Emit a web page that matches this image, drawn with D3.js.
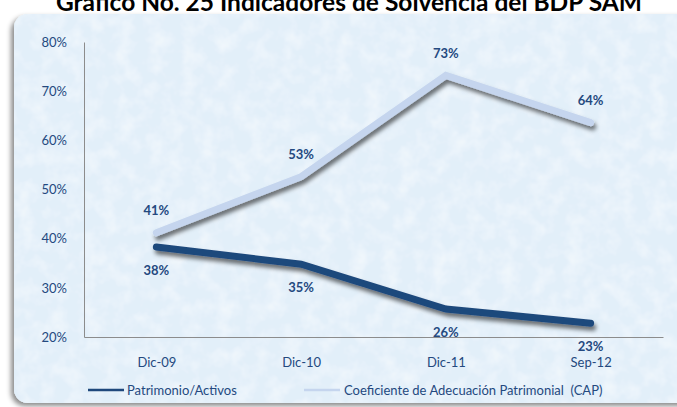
<!DOCTYPE html>
<html>
<head>
<meta charset="utf-8">
<script src="https://cdn.jsdelivr.net/npm/d3@7"></script>
<style>
  html, body { margin: 0; padding: 0; background: #fff; }
  svg { display: block; }
</style>
</head>
<body>
<svg id="chart" width="677" height="407"></svg>
<script>
// ---------- data ----------
const categories = ["Dic-09", "Dic-10", "Dic-11", "Sep-12"];
const patrimonio = [0.383, 0.348, 0.257, 0.228];
const cap = [0.412, 0.526, 0.732, 0.636];
const yTicks = [0.2, 0.3, 0.4, 0.5, 0.6, 0.7, 0.8];
const seriesNames = ["Patrimonio/Activos", "Coeficiente de Adecuación Patrimonial  (CAP)"];
const title = "Grafico No. 25 Indicadores de Solvencia del BDP SAM";

const W = 677, H = 407;
const margin = { left: 84, right: 14, top: 42, bottom: 70 };
const FONT = "Lato, 'Open Sans', sans-serif";
const TEXT = "#24497f";
const DARK = "#1f487c", LIGHT = "#c5d5ee";

const svg = d3.select("#chart");
const defs = svg.append("defs");

// paper-ish texture for the panel
const tex = defs.append("filter").attr("id", "tex").attr("x", 0).attr("y", 0).attr("width", 1).attr("height", 1);
tex.append("feTurbulence").attr("type", "fractalNoise").attr("baseFrequency", 0.06).attr("numOctaves", 3).attr("seed", 4).attr("result", "n");
tex.append("feColorMatrix").attr("in", "n").attr("type", "matrix")
  .attr("values", "0 0 0 0 1  0 0 0 0 1  0 0 0 0 1  0 0 0 0.9 -0.35").attr("result", "w");
tex.append("feComposite").attr("in", "w").attr("in2", "SourceGraphic").attr("operator", "in").attr("result", "wc");
tex.append("feMerge").call((m) => { m.append("feMergeNode").attr("in", "SourceGraphic"); m.append("feMergeNode").attr("in", "wc"); });

const panelShadow = defs.append("filter").attr("id", "pshadow").attr("x", "-5%").attr("y", "-5%").attr("width", "110%").attr("height", "110%");
panelShadow.append("feDropShadow").attr("dx", -3).attr("dy", 3).attr("stdDeviation", 2.5)
  .attr("flood-color", "#000").attr("flood-opacity", 0.45);

const lineShadow = defs.append("filter").attr("id", "lshadow").attr("x", "-10%").attr("y", "-20%").attr("width", "120%").attr("height", "140%");
lineShadow.append("feDropShadow").attr("dx", 2).attr("dy", 4).attr("stdDeviation", 2.2)
  .attr("flood-color", "#000").attr("flood-opacity", 0.55);

// panel
svg.append("rect")
  .attr("x", 14).attr("y", 14).attr("width", 700).attr("height", 389).attr("rx", 14)
  .attr("fill", "#e2eff9")
  .attr("filter", "url(#pshadow)");
svg.append("rect")
  .attr("x", 14).attr("y", 14).attr("width", 700).attr("height", 389).attr("rx", 14)
  .attr("fill", "#e2eff9")
  .attr("filter", "url(#tex)");

// title, its top runs off the page like in the original
svg.append("text")
  .attr("x", 349).attr("y", 11)
  .attr("text-anchor", "middle")
  .attr("font-family", "Lato, sans-serif")
  .attr("font-weight", 700)
  .attr("font-size", 24)
  .attr("textLength", 586)
  .attr("lengthAdjust", "spacingAndGlyphs")
  .attr("fill", "#000")
  .text(title);

// ---------- scales ----------
const x = d3.scalePoint().domain(categories).range([margin.left, W - margin.right]).padding(0.5);
const y = d3.scaleLinear().domain([0.2, 0.8]).range([H - margin.bottom, margin.top]);

// axes
const yAxis = svg.append("g")
  .attr("transform", `translate(${margin.left},0)`)
  .call(d3.axisLeft(y).tickValues(yTicks).tickFormat(d3.format(".0%")).tickSize(0).tickSizeOuter(0).tickPadding(17));
yAxis.select(".domain").attr("stroke", "#8c8c8c");
yAxis.selectAll("text").attr("font-family", FONT).attr("font-size", 13).attr("fill", TEXT);

const xAxis = svg.append("g")
  .attr("transform", `translate(0,${y(0.2)})`)
  .call(d3.axisBottom(x).tickSize(0).tickSizeOuter(0).tickPadding(21));
xAxis.select(".domain").attr("stroke", "#8c8c8c");
xAxis.selectAll("text").attr("font-family", FONT).attr("font-size", 13).attr("fill", TEXT);

// ---------- lines ----------
const line = d3.line().x((d, i) => x(categories[i])).y((d) => y(d));
const series = [
  { name: seriesNames[0], values: patrimonio, color: DARK, dy: 23 },
  { name: seriesNames[1], values: cap, color: LIGHT, dy: -22 },
];

series.slice().reverse().forEach((s) => {
  svg.append("path")
    .datum(s.values)
    .attr("d", line)
    .attr("fill", "none")
    .attr("stroke", s.color)
    .attr("stroke-width", 7)
    .attr("stroke-linecap", "round")
    .attr("stroke-linejoin", "miter")
    .attr("filter", "url(#lshadow)");
});

// data labels
series.forEach((s) => {
  svg.append("g").selectAll("text")
    .data(s.values)
    .join("text")
    .attr("x", (d, i) => x(categories[i]))
    .attr("y", (d) => y(d) + s.dy)
    .attr("dy", "0.35em")
    .attr("text-anchor", "middle")
    .attr("font-family", FONT)
    .attr("font-weight", 700)
    .attr("font-size", 13)
    .attr("fill", TEXT)
    .text((d) => d3.format(".0%")(d));
});

// ---------- legend ----------
const legendY = 390;
const legendX = [88, 304];
series.forEach((s, i) => {
  const g = svg.append("g").attr("transform", `translate(${legendX[i]},${legendY})`);
  g.append("line").attr("x1", 0).attr("x2", 36).attr("stroke", s.color).attr("stroke-width", 2.5);
  g.append("text")
    .attr("x", i === 0 ? 39 : 40).attr("dy", "0.35em")
    .attr("font-family", FONT).attr("font-size", 13).attr("fill", TEXT)
    .style("white-space", "pre")
    .text(s.name);
});
</script>
</body>
</html>
